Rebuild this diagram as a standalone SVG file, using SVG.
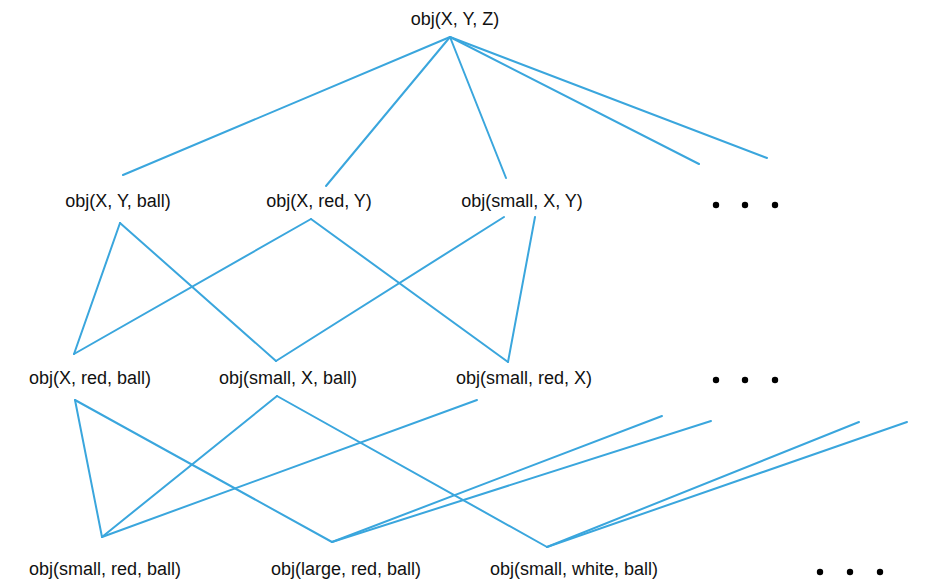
<svg xmlns="http://www.w3.org/2000/svg" width="932" height="588" viewBox="0 0 932 588">
  <style>
    .lbl { font-family: "Liberation Sans", Arial, sans-serif; font-size: 18px; fill: #111; text-anchor: middle; }
    .edge { stroke: #3aa6dd; stroke-width: 2; fill: none; stroke-linecap: round; }
    .dot { fill: #000; }
  </style>
  <rect width="932" height="588" fill="#fff"/>

  <!-- connectors -->
  <g id="connectors" class="edge">
    <!-- top to level 2 -->
    <line x1="450" y1="37" x2="123" y2="175"/>
    <line x1="450" y1="37" x2="326" y2="186"/>
    <line x1="450" y1="37" x2="506" y2="178"/>
    <line x1="450" y1="37" x2="699" y2="164"/>
    <line x1="450" y1="37" x2="767" y2="158"/>
    <!-- level 2 to level 3 -->
    <line x1="120" y1="223" x2="74" y2="354"/>
    <line x1="120" y1="223" x2="276" y2="361"/>
    <line x1="311" y1="219" x2="74" y2="354"/>
    <line x1="311" y1="219" x2="508" y2="362"/>
    <line x1="504" y1="217" x2="276" y2="361"/>
    <line x1="535" y1="217" x2="508" y2="362"/>
    <!-- level 3 to level 4 -->
    <line x1="75" y1="400" x2="102" y2="537"/>
    <line x1="75" y1="400" x2="332" y2="542"/>
    <line x1="277" y1="396" x2="102" y2="537"/>
    <line x1="277" y1="396" x2="547" y2="547"/>
    <line x1="477" y1="400" x2="102" y2="537"/>
    <line x1="662" y1="416" x2="332" y2="542"/>
    <line x1="711" y1="421" x2="332" y2="542"/>
    <line x1="859" y1="422" x2="547" y2="547"/>
    <line x1="907" y1="422" x2="547" y2="547"/>
  </g>

  <g id="n-xyz"><text class="lbl" x="455" y="25">obj(X, Y, Z)</text></g>

  <g id="n-x-y-ball"><text class="lbl" x="118" y="207">obj(X, Y, ball)</text></g>
  <g id="n-x-red-y"><text class="lbl" x="319" y="207">obj(X, red, Y)</text></g>
  <g id="n-small-x-y"><text class="lbl" x="522" y="207">obj(small, X, Y)</text></g>
  <g id="more-2">
    <circle class="dot" cx="716" cy="205" r="3.2"/>
    <circle class="dot" cx="745" cy="205" r="3.2"/>
    <circle class="dot" cx="775" cy="205" r="3.2"/>
  </g>

  <g id="n-x-red-ball"><text class="lbl" x="90" y="384">obj(X, red, ball)</text></g>
  <g id="n-small-x-ball"><text class="lbl" x="288" y="384">obj(small, X, ball)</text></g>
  <g id="n-small-red-x"><text class="lbl" x="524" y="384">obj(small, red, X)</text></g>
  <g id="more-3">
    <circle class="dot" cx="716" cy="380" r="3.2"/>
    <circle class="dot" cx="745" cy="380" r="3.2"/>
    <circle class="dot" cx="775" cy="380" r="3.2"/>
  </g>

  <g id="n-small-red-ball"><text class="lbl" x="105" y="575">obj(small, red, ball)</text></g>
  <g id="n-large-red-ball"><text class="lbl" x="346" y="575">obj(large, red, ball)</text></g>
  <g id="n-small-white-ball"><text class="lbl" x="574" y="575">obj(small, white, ball)</text></g>
  <g id="more-4">
    <circle class="dot" cx="820" cy="572" r="3.2"/>
    <circle class="dot" cx="850" cy="572" r="3.2"/>
    <circle class="dot" cx="880" cy="572" r="3.2"/>
  </g>
</svg>
